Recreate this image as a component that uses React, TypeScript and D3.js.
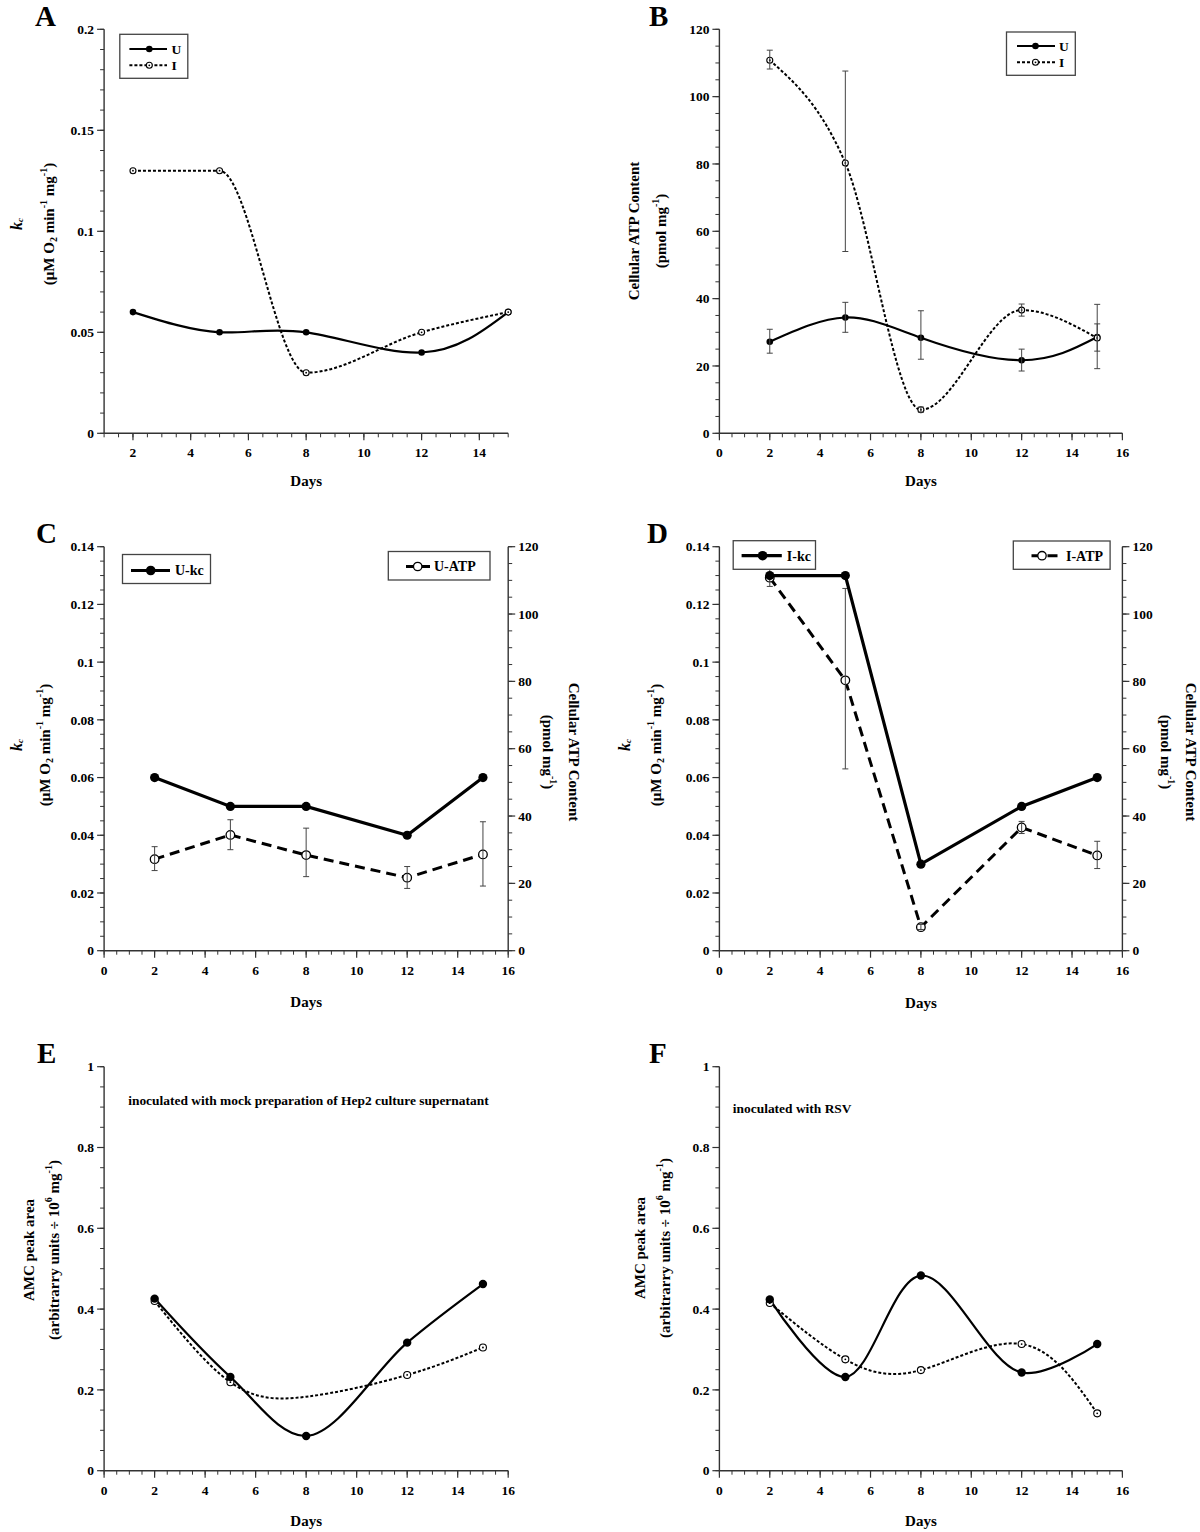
import React from 'react';
import * as d3 from 'd3';

// ---------------- data ----------------
const days = [2, 5, 8, 12, 15];

// oxygen consumption rate constant kc (µM O2 min-1 mg-1)
const kcU = [0.06, 0.05, 0.05, 0.04, 0.06];
const kcI = [0.13, 0.13, 0.03, 0.05, 0.06];

// cellular ATP content (pmol mg-1) with error bar ends
const atpU = [27.2, 34.4, 28.4, 21.7, 28.6];
const atpUHi = [30.9, 38.9, 36.4, 25.0, 38.3];
const atpULo = [23.8, 30.0, 22.0, 18.5, 19.2];
const atpI = [110.8, 80.3, 7.0, 36.6, 28.3];
const atpIHi = [113.8, 107.6, 7.8, 38.4, 32.5];
const atpILo = [108.2, 54.0, 6.3, 34.8, 24.4];

// AMC peak area
const amcMockU = [0.426, 0.232, 0.086, 0.317, 0.462];
const amcMockI = [0.42, 0.219, 0.183, 0.237, 0.305];
const amcMockIMarked = [true, true, false, true, true];
const amcRsvU = [0.424, 0.232, 0.483, 0.243, 0.3135];
const amcRsvI = [0.415, 0.2756, 0.249, 0.3135, 0.142];

// ticks
const dayTicksA = [2, 4, 6, 8, 10, 12, 14];
const dayTicks = [0, 2, 4, 6, 8, 10, 12, 14, 16];
const kcTicksA = [0, 0.05, 0.1, 0.15, 0.2];
const kcTicksCD = [0, 0.02, 0.04, 0.06, 0.08, 0.1, 0.12, 0.14];
const atpTicks = [0, 20, 40, 60, 80, 100, 120];
const amcTicks = [0, 0.2, 0.4, 0.6, 0.8, 1];

// ---------------- layout ----------------
const FONT = "'Liberation Serif','Times New Roman',Times,serif";
const AX = '#333';
const TICK_FS = 13.5;
const colL = { x0: 104.1, x1: 508.2 };
const colR = { x0: 719.4, x1: 1122.4 };
const row1 = { top: 29.3, bot: 433.3 };
const row2 = { top: 546.7, bot: 950.7 };
const row3 = { top: 1066.7, bot: 1470.7 };

type Scale = d3.ScaleLinear<number, number>;

function XAxis({ sx, y, ticks, minorStep }: { sx: Scale; y: number; ticks: number[]; minorStep: number }) {
  const [d0, d1] = sx.domain();
  const [r0, r1] = sx.range();
  const minor = d3.range(d0, d1 + 1e-9, minorStep);
  return (
    <g>
      <line x1={r0} x2={r1} y1={y} y2={y} stroke={AX} strokeWidth={1.4} />
      {minor.map((v, i) => (
        <line key={'m' + i} x1={sx(v)} x2={sx(v)} y1={y} y2={y + 4} stroke={AX} strokeWidth={1} />
      ))}
      {ticks.map((v) => (
        <g key={v}>
          <line x1={sx(v)} x2={sx(v)} y1={y} y2={y + 7} stroke={AX} strokeWidth={1.2} />
          <text x={sx(v)} y={y + 24} textAnchor="middle" fontSize={TICK_FS} fontWeight="bold">
            {v}
          </text>
        </g>
      ))}
    </g>
  );
}

function YAxis({ sy, x, ticks, minorStep, side }: { sy: Scale; x: number; ticks: number[]; minorStep: number; side: 'left' | 'right' }) {
  const [d0, d1] = sy.domain();
  const [r0, r1] = sy.range();
  const minor = d3.range(d0, d1 + 1e-9, minorStep);
  const dir = side === 'left' ? -1 : 1;
  return (
    <g>
      <line x1={x} x2={x} y1={r0} y2={r1} stroke={AX} strokeWidth={1.4} />
      {minor.map((v, i) => (
        <line key={'m' + i} x1={x} x2={x + dir * 4} y1={sy(v)} y2={sy(v)} stroke={AX} strokeWidth={1} />
      ))}
      {ticks.map((v) => (
        <g key={v}>
          <line x1={x} x2={x + dir * 7} y1={sy(v)} y2={sy(v)} stroke={AX} strokeWidth={1.2} />
          <text
            x={x + dir * 10}
            y={sy(v)}
            dy="0.35em"
            textAnchor={side === 'left' ? 'end' : 'start'}
            fontSize={TICK_FS}
            fontWeight="bold"
          >
            {String(v)}
          </text>
        </g>
      ))}
    </g>
  );
}

function RotText({ x, y, angle, children }: { x: number; y: number; angle: number; children: React.ReactNode }) {
  return (
    <text
      transform={`translate(${x},${y}) rotate(${angle})`}
      textAnchor="middle"
      dominantBaseline="central"
      fontSize={15}
      fontWeight="bold"
    >
      {children}
    </text>
  );
}

function KcLabel({ x1, x2, y }: { x1: number; x2: number; y: number }) {
  return (
    <g>
      <RotText x={x1} y={y} angle={-90}>
        <tspan fontStyle="italic" fontSize={16}>k</tspan>
        <tspan fontStyle="italic" fontSize={9} dy={4}>c</tspan>
      </RotText>
      <RotText x={x2} y={y} angle={-90}>
        (μM O<tspan fontSize={10} dy={4}>2</tspan>
        <tspan dy={-4}> min</tspan>
        <tspan fontSize={10} dy={-6}>-1</tspan>
        <tspan dy={6}> mg</tspan>
        <tspan fontSize={10} dy={-6}>-1</tspan>
        <tspan dy={6}>)</tspan>
      </RotText>
    </g>
  );
}

function AtpLabel({ x1, x2, y, angle }: { x1: number; x2: number; y: number; angle: number }) {
  return (
    <g>
      <RotText x={x1} y={y} angle={angle}>Cellular ATP Content</RotText>
      <RotText x={x2} y={y} angle={angle}>
        (pmol mg<tspan fontSize={10} dy={-6}>-1</tspan>
        <tspan dy={6}>)</tspan>
      </RotText>
    </g>
  );
}

function AmcLabel({ x1, x2, y }: { x1: number; x2: number; y: number }) {
  return (
    <g>
      <RotText x={x1} y={y} angle={-90}>AMC peak area</RotText>
      <RotText x={x2} y={y} angle={-90}>
        (arbitrarry units ÷ 10<tspan fontSize={10} dy={-6}>6</tspan>
        <tspan dy={6}> mg</tspan>
        <tspan fontSize={10} dy={-6}>-1</tspan>
        <tspan dy={6}>)</tspan>
      </RotText>
    </g>
  );
}

const Filled = ({ x, y, r }: { x: number; y: number; r: number }) => <circle cx={x} cy={y} r={r} fill="#000" />;
const OpenDot = ({ x, y, r }: { x: number; y: number; r: number }) => (
  <g>
    <circle cx={x} cy={y} r={r} fill="#fff" stroke="#000" strokeWidth={1.1} />
    <circle cx={x} cy={y} r={0.9} fill="#000" />
  </g>
);
const Open = ({ x, y, r }: { x: number; y: number; r: number }) => (
  <circle cx={x} cy={y} r={r} fill="#fff" stroke="#000" strokeWidth={1.3} />
);

function linePath(xs: number[], ys: number[], sx: Scale, sy: Scale, curve: d3.CurveFactory) {
  return (
    d3
      .line<number>()
      .x((_, i) => sx(xs[i]))
      .y((d) => sy(d))
      .curve(curve)(ys) || ''
  );
}

function ErrBars({ xs, hi, lo, sx, sy }: { xs: number[]; hi: number[]; lo: number[]; sx: Scale; sy: Scale }) {
  return (
    <g stroke="#444" strokeWidth={1}>
      {xs.map((d, i) => (
        <g key={i}>
          <line x1={sx(d)} x2={sx(d)} y1={sy(hi[i])} y2={sy(lo[i])} />
          <line x1={sx(d) - 3} x2={sx(d) + 3} y1={sy(hi[i])} y2={sy(hi[i])} />
          <line x1={sx(d) - 3} x2={sx(d) + 3} y1={sy(lo[i])} y2={sy(lo[i])} />
        </g>
      ))}
    </g>
  );
}

function Letter({ x, y, t }: { x: number; y: number; t: string }) {
  return (
    <text x={x} y={y} fontSize={29} fontWeight="bold">
      {t}
    </text>
  );
}

function DaysLabel({ col, y }: { col: { x0: number; x1: number }; y: number }) {
  return (
    <text x={(col.x0 + col.x1) / 2} y={y} textAnchor="middle" fontSize={15} fontWeight="bold">
      Days
    </text>
  );
}

function SmallLegend({ x, y, w, h, lx0, lx1, mx, tx, r1, r2, l1, l2 }: any) {
  return (
    <g>
      <rect x={x} y={y} width={w} height={h} fill="#fff" stroke="#444" strokeWidth={1.3} />
      <line x1={lx0} x2={lx1} y1={r1} y2={r1} stroke="#000" strokeWidth={2.2} />
      <Filled x={mx} y={r1} r={3.3} />
      <text x={tx} y={r1} dy="0.35em" fontSize={13.5} fontWeight="bold">{l1}</text>
      <line x1={lx0} x2={lx1} y1={r2} y2={r2} stroke="#000" strokeWidth={2} strokeDasharray="3,2" />
      <OpenDot x={mx} y={r2} r={3} />
      <text x={tx} y={r2} dy="0.35em" fontSize={13.5} fontWeight="bold">{l2}</text>
    </g>
  );
}

export default function App() {
  // Panel A
  const sxA = d3.scaleLinear().domain([1, 15]).range([colL.x0, colL.x1]);
  const syA = d3.scaleLinear().domain([0, 0.2]).range([row1.bot, row1.top]);
  // Panel B
  const sxB = d3.scaleLinear().domain([0, 16]).range([colR.x0, colR.x1]);
  const syB = d3.scaleLinear().domain([0, 120]).range([row1.bot, row1.top]);
  // Panel C
  const sxC = d3.scaleLinear().domain([0, 16]).range([colL.x0, colL.x1]);
  const syCk = d3.scaleLinear().domain([0, 0.14]).range([row2.bot, row2.top]);
  const syCa = d3.scaleLinear().domain([0, 120]).range([row2.bot, row2.top]);
  // Panel D
  const sxD = d3.scaleLinear().domain([0, 16]).range([colR.x0, colR.x1]);
  const syDk = d3.scaleLinear().domain([0, 0.14]).range([row2.bot, row2.top]);
  const syDa = d3.scaleLinear().domain([0, 120]).range([row2.bot, row2.top]);
  // Panel E, F
  const sxE = d3.scaleLinear().domain([0, 16]).range([colL.x0, colL.x1]);
  const syE = d3.scaleLinear().domain([0, 1]).range([row3.bot, row3.top]);
  const sxF = d3.scaleLinear().domain([0, 16]).range([colR.x0, colR.x1]);
  const syF = d3.scaleLinear().domain([0, 1]).range([row3.bot, row3.top]);

  return (
    <svg
      width={1200}
      height={1532}
      viewBox="0 0 1200 1532"
      style={{ position: 'absolute', left: 0, top: 0, background: '#fff' }}
      fontFamily={FONT}
    >
      <rect x={0} y={0} width={1200} height={1532} fill="#fff" />

      {/* ---------- A ---------- */}
      <Letter x={35} y={26} t="A" />
      <YAxis sy={syA} x={colL.x0} ticks={kcTicksA} minorStep={0.01} side="left" />
      <XAxis sx={sxA} y={row1.bot} ticks={dayTicksA} minorStep={0.5} />
      <KcLabel x1={15.5} x2={49} y={224} />
      <DaysLabel col={colL} y={486} />
      <path d={linePath(days, kcU, sxA, syA, d3.curveNatural)} fill="none" stroke="#000" strokeWidth={2.2} />
      <path d={linePath(days, kcI, sxA, syA, d3.curveMonotoneX)} fill="none" stroke="#000" strokeWidth={2} strokeDasharray="3,2" />
      {days.map((d, i) => <Filled key={'au' + i} x={sxA(d)} y={syA(kcU[i])} r={3.3} />)}
      {days.map((d, i) => <OpenDot key={'ai' + i} x={sxA(d)} y={syA(kcI[i])} r={3} />)}
      <SmallLegend x={119.8} y={34.3} w={68} h={44} lx0={129.4} lx1={167} mx={149.3} tx={171.5} r1={49} r2={65.3} l1="U" l2="I" />

      {/* ---------- B ---------- */}
      <Letter x={649} y={26} t="B" />
      <YAxis sy={syB} x={colR.x0} ticks={atpTicks} minorStep={5} side="left" />
      <XAxis sx={sxB} y={row1.bot} ticks={dayTicks} minorStep={0.5} />
      <AtpLabel x1={633.7} x2={661} y={231} angle={-90} />
      <DaysLabel col={colR} y={486} />
      <path d={linePath(days, atpU, sxB, syB, d3.curveNatural)} fill="none" stroke="#000" strokeWidth={2.2} />
      <path d={linePath(days, atpI, sxB, syB, d3.curveMonotoneX)} fill="none" stroke="#000" strokeWidth={2} strokeDasharray="3,2" />
      {days.map((d, i) => <Filled key={'bu' + i} x={sxB(d)} y={syB(atpU[i])} r={3.3} />)}
      {days.map((d, i) => <OpenDot key={'bi' + i} x={sxB(d)} y={syB(atpI[i])} r={3} />)}
      <ErrBars xs={days} hi={atpUHi} lo={atpULo} sx={sxB} sy={syB} />
      <ErrBars xs={days} hi={atpIHi} lo={atpILo} sx={sxB} sy={syB} />
      <SmallLegend x={1006.5} y={32} w={68.8} h={43.3} lx0={1017} lx1={1055} mx={1035.5} tx={1059} r1={46} r2={62.3} l1="U" l2="I" />

      {/* ---------- C ---------- */}
      <Letter x={36} y={543} t="C" />
      <YAxis sy={syCk} x={colL.x0} ticks={kcTicksCD} minorStep={0.005} side="left" />
      <YAxis sy={syCa} x={colL.x1} ticks={atpTicks} minorStep={5} side="right" />
      <XAxis sx={sxC} y={row2.bot} ticks={dayTicks} minorStep={0.5} />
      <KcLabel x1={16} x2={44.5} y={745} />
      <AtpLabel x1={574} x2={548} y={752} angle={90} />
      <DaysLabel col={colL} y={1007} />
      <path d={linePath(days, atpU, sxC, syCa, d3.curveLinear)} fill="none" stroke="#000" strokeWidth={3} strokeDasharray="10,6" />
      <path d={linePath(days, kcU, sxC, syCk, d3.curveLinear)} fill="none" stroke="#000" strokeWidth={3.2} />
      {days.map((d, i) => <Open key={'ca' + i} x={sxC(d)} y={syCa(atpU[i])} r={4.3} />)}
      <ErrBars xs={days} hi={atpUHi} lo={atpULo} sx={sxC} sy={syCa} />
      {days.map((d, i) => <Filled key={'ck' + i} x={sxC(d)} y={syCk(kcU[i])} r={4.6} />)}
      <g>
        <rect x={122.5} y={554.5} width={88} height={29} fill="#fff" stroke="#444" strokeWidth={1.3} />
        <line x1={131} x2={170} y1={570.5} y2={570.5} stroke="#000" strokeWidth={3.2} />
        <Filled x={150.7} y={570.5} r={4.8} />
        <text x={175} y={570.5} dy="0.35em" fontSize={14} fontWeight="bold">U-kc</text>
      </g>
      <g>
        <rect x={388.3} y={551.5} width={101.7} height={28.5} fill="#fff" stroke="#444" strokeWidth={1.3} />
        <line x1={406} x2={430} y1={566.5} y2={566.5} stroke="#000" strokeWidth={3} strokeDasharray="10,6" />
        <Open x={417.7} y={566.5} r={4.2} />
        <text x={434} y={566.5} dy="0.35em" fontSize={14} fontWeight="bold">U-ATP</text>
      </g>

      {/* ---------- D ---------- */}
      <Letter x={647} y={543} t="D" />
      <YAxis sy={syDk} x={colR.x0} ticks={kcTicksCD} minorStep={0.005} side="left" />
      <YAxis sy={syDa} x={colR.x1} ticks={atpTicks} minorStep={5} side="right" />
      <XAxis sx={sxD} y={row2.bot} ticks={dayTicks} minorStep={0.5} />
      <KcLabel x1={623.7} x2={655.5} y={745} />
      <AtpLabel x1={1191} x2={1165.5} y={752} angle={90} />
      <DaysLabel col={colR} y={1008} />
      <path d={linePath(days, atpI, sxD, syDa, d3.curveLinear)} fill="none" stroke="#000" strokeWidth={3} strokeDasharray="10,6" />
      {days.map((d, i) => <Open key={'da' + i} x={sxD(d)} y={syDa(atpI[i])} r={4.3} />)}
      <ErrBars xs={days} hi={atpIHi} lo={atpILo} sx={sxD} sy={syDa} />
      <path d={linePath(days, kcI, sxD, syDk, d3.curveLinear)} fill="none" stroke="#000" strokeWidth={3.2} />
      {days.map((d, i) => <Filled key={'dk' + i} x={sxD(d)} y={syDk(kcI[i])} r={4.6} />)}
      <g>
        <rect x={733.2} y={540.7} width={82.3} height={28.6} fill="#fff" stroke="#444" strokeWidth={1.3} />
        <line x1={741.6} x2={781.8} y1={555.7} y2={555.7} stroke="#000" strokeWidth={3.2} />
        <Filled x={762.6} y={555.7} r={4.8} />
        <text x={786.8} y={555.7} dy="0.35em" fontSize={14} fontWeight="bold">I-kc</text>
      </g>
      <g>
        <rect x={1013.3} y={541} width={96.8} height={28.3} fill="#fff" stroke="#444" strokeWidth={1.3} />
        <line x1={1031.5} x2={1061} y1={555.7} y2={555.7} stroke="#000" strokeWidth={3} strokeDasharray="10,6" />
        <Open x={1042} y={555.7} r={4.2} />
        <text x={1066} y={555.7} dy="0.35em" fontSize={14} fontWeight="bold">I-ATP</text>
      </g>

      {/* ---------- E ---------- */}
      <Letter x={37} y={1063} t="E" />
      <YAxis sy={syE} x={colL.x0} ticks={amcTicks} minorStep={0.05} side="left" />
      <XAxis sx={sxE} y={row3.bot} ticks={dayTicks} minorStep={0.5} />
      <AmcLabel x1={28.7} x2={53.6} y={1250} />
      <DaysLabel col={colL} y={1526} />
      <text x={128.2} y={1105} fontSize={13.45} fontWeight="bold">
        inoculated with mock preparation of Hep2 culture supernatant
      </text>
      <path d={linePath(days, amcMockI, sxE, syE, d3.curveNatural)} fill="none" stroke="#000" strokeWidth={2} strokeDasharray="3,2" />
      <path d={linePath(days, amcMockU, sxE, syE, d3.curveCatmullRom)} fill="none" stroke="#000" strokeWidth={2.2} />
      {days.map((d, i) =>
        amcMockIMarked[i] ? <OpenDot key={'ei' + i} x={sxE(d)} y={syE(amcMockI[i])} r={3.5} /> : null
      )}
      {days.map((d, i) => <Filled key={'eu' + i} x={sxE(d)} y={syE(amcMockU[i])} r={4.2} />)}

      {/* ---------- F ---------- */}
      <Letter x={649} y={1063} t="F" />
      <YAxis sy={syF} x={colR.x0} ticks={amcTicks} minorStep={0.05} side="left" />
      <XAxis sx={sxF} y={row3.bot} ticks={dayTicks} minorStep={0.5} />
      <AmcLabel x1={640.2} x2={665} y={1248} />
      <DaysLabel col={colR} y={1526} />
      <text x={732.8} y={1113.3} fontSize={13.45} fontWeight="bold">
        inoculated with RSV
      </text>
      <path d={linePath(days, amcRsvI, sxF, syF, d3.curveNatural)} fill="none" stroke="#000" strokeWidth={2} strokeDasharray="3,2" />
      <path d={linePath(days, amcRsvU, sxF, syF, d3.curveCatmullRom)} fill="none" stroke="#000" strokeWidth={2.2} />
      {days.map((d, i) => <OpenDot key={'fi' + i} x={sxF(d)} y={syF(amcRsvI[i])} r={3.5} />)}
      {days.map((d, i) => <Filled key={'fu' + i} x={sxF(d)} y={syF(amcRsvU[i])} r={4.2} />)}
    </svg>
  );
}
